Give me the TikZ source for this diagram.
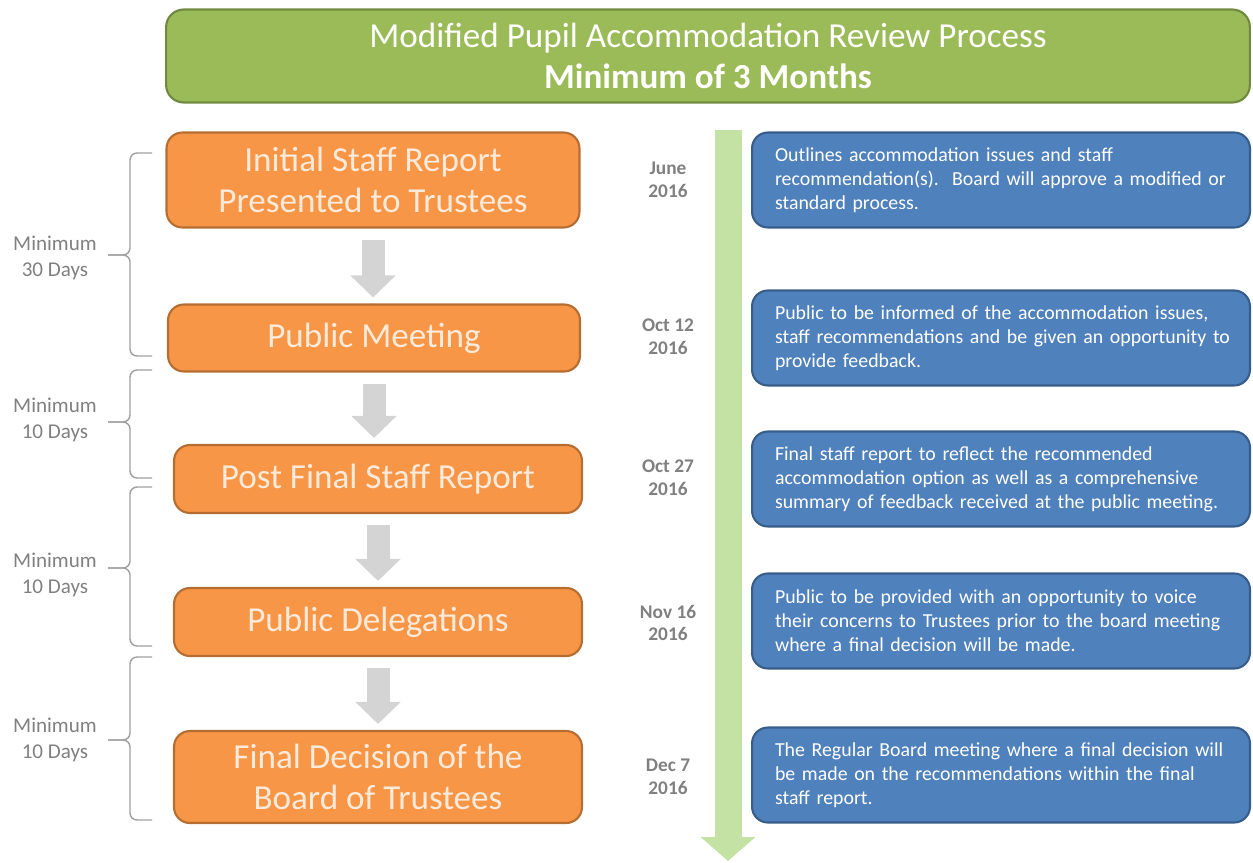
\documentclass[tikz,border=0pt]{standalone}
\usepackage{fontspec}
\setmainfont{Carlito}
\usetikzlibrary{arrows.meta}

\definecolor{headgreen}{HTML}{9BBB59}
\definecolor{headline}{HTML}{71893F}
\definecolor{steporange}{HTML}{F79646}
\definecolor{stepline}{HTML}{B66D31}
\definecolor{steptext}{HTML}{FDEADA}
\definecolor{noteblue}{HTML}{4F81BD}
\definecolor{noteline}{HTML}{385D8A}
\definecolor{timegreen}{HTML}{C4E2A4}
\definecolor{flowgray}{HTML}{D4D4D4}
\definecolor{dategray}{HTML}{808080}
\definecolor{bracegray}{HTML}{A0A0A0}

\tikzset{
  headbox/.style={draw=headline, line width=1.2pt, fill=headgreen, rounded corners=10pt, text=white,
    align=center, font=\fontsize{20}{23}\selectfont, minimum width=21.68cm, minimum height=1.86cm},
  stepbox/.style={draw=stepline, line width=1.2pt, fill=steporange, rounded corners=9pt, text=steptext,
    align=center, font=\fontsize{20}{23}\selectfont},
  notebox/.style={draw=noteline, line width=1.2pt, fill=noteblue, rounded corners=9pt, text=white,
    align=left, text width=9.6cm, inner xsep=0.18cm, font=\fontsize{11.3}{13.6}\selectfont,
    execute at begin node={\leftskip=0.28cm}, minimum width=9.96cm, minimum height=1.9cm},
  datelabel/.style={text=dategray, align=center, font=\bfseries\fontsize{11}{13}\selectfont},
  minlabel/.style={text=dategray, align=center, font=\fontsize{12}{14.5}\selectfont},
  flowarrow/.style={draw=flowgray, line width=0.46cm, -{Triangle[width=0.88cm,length=0.44cm]},
    shorten <=0.22cm, shorten >=0.12cm},
  minbrace/.style={draw=bracegray, line width=0.8pt, rounded corners=4pt},
}

\begin{document}
\begin{tikzpicture}[x=0.02cm,y=-0.02cm]
        \useasboundingbox (0,0) rectangle (1253,862);
        % Draw header
        \node[headbox] (head) at (708,56) {Modified Pupil Accommodation Review Process\\ \textbf{Minimum of 3 Months}};
        % Draw timeline
        \coordinate (ttop) at (728,130);
        \coordinate (tend) at (728,861);
        \draw[timegreen, line width=0.54cm, -{Triangle[width=1.07cm,length=0.48cm]}] (ttop) -- (tend);
        % Draw steps
        \node[stepbox, minimum width=8.26cm, minimum height=1.9cm] (s1) at (373,180) {Initial Staff Report\\ Presented to Trustees};
        \node[stepbox, minimum width=8.24cm, minimum height=1.34cm] (s2) at (374,338) {Public Meeting};
        \node[stepbox, minimum width=8.16cm, minimum height=1.36cm] (s3) at (378,479) {Post Final Staff Report};
        \node[stepbox, minimum width=8.16cm, minimum height=1.36cm] (s4) at (378,622) {Public Delegations};
        \node[stepbox, minimum width=8.16cm, minimum height=1.84cm] (s5) at (378,777) {Final Decision of the\\ Board of Trustees};
        \draw[flowarrow] (s1.south) -- (s1.south |- s2.north);
        \draw[flowarrow] (s2.south) -- (s2.south |- s3.north);
        \draw[flowarrow] (s3.south) -- (s3.south |- s4.north);
        \draw[flowarrow] (s4.south) -- (s4.south |- s5.north);
        % Draw dates
        \node[datelabel] (dt1) at (668,180) {June\\ 2016};
        \node[datelabel] (dt2) at (668,337) {Oct 12\\ 2016};
        \node[datelabel] (dt3) at (668,478) {Oct 27\\ 2016};
        \node[datelabel] (dt4) at (668,623) {Nov 16\\ 2016};
        \node[datelabel] (dt5) at (668,777) {Dec 7\\ 2016};
        % Draw notes
        \node[notebox] (n1) at (1001,180) {Outlines accommodation issues and staff\\ recommendation(s).\ \ Board will approve a modified or\\ standard process.};
        \node[notebox] (n2) at (1001,338) {Public to be informed of the accommodation issues,\\ staff recommendations and be given an opportunity to\\ provide feedback.};
        \node[notebox] (n3) at (1001,479) {Final staff report to reflect the recommended\\ accommodation option as well as a comprehensive\\ summary of feedback received at the public meeting.};
        \node[notebox] (n4) at (1001,621) {Public to be provided with an opportunity to voice\\ their concerns to Trustees prior to the board meeting\\ where a final decision will be made.};
        \node[notebox] (n5) at (1001,775) {The Regular Board meeting where a final decision will\\ be made on the recommendations within the final\\ staff report.};
        % Draw braces
        \draw[minbrace] (152,153) -- (130,153) -- (130,255) -- (108,255);
        \draw[minbrace] (152,356) -- (130,356) -- (130,255) -- (108,255);
        \draw[minbrace] (152,370) -- (130,370) -- (130,422) -- (108,422);
        \draw[minbrace] (152,478) -- (130,478) -- (130,422) -- (108,422);
        \draw[minbrace] (152,487) -- (130,487) -- (130,568) -- (108,568);
        \draw[minbrace] (152,646) -- (130,646) -- (130,568) -- (108,568);
        \draw[minbrace] (152,657) -- (130,657) -- (130,740) -- (108,740);
        \draw[minbrace] (152,820) -- (130,820) -- (130,740) -- (108,740);
        \node[minlabel] (m1) at (55,258) {Minimum\\ 30 Days};
        \node[minlabel] (m2) at (55,420) {Minimum\\ 10 Days};
        \node[minlabel] (m3) at (55,575) {Minimum\\ 10 Days};
        \node[minlabel] (m4) at (55,740) {Minimum\\ 10 Days};
      \end{tikzpicture}
\end{document}
